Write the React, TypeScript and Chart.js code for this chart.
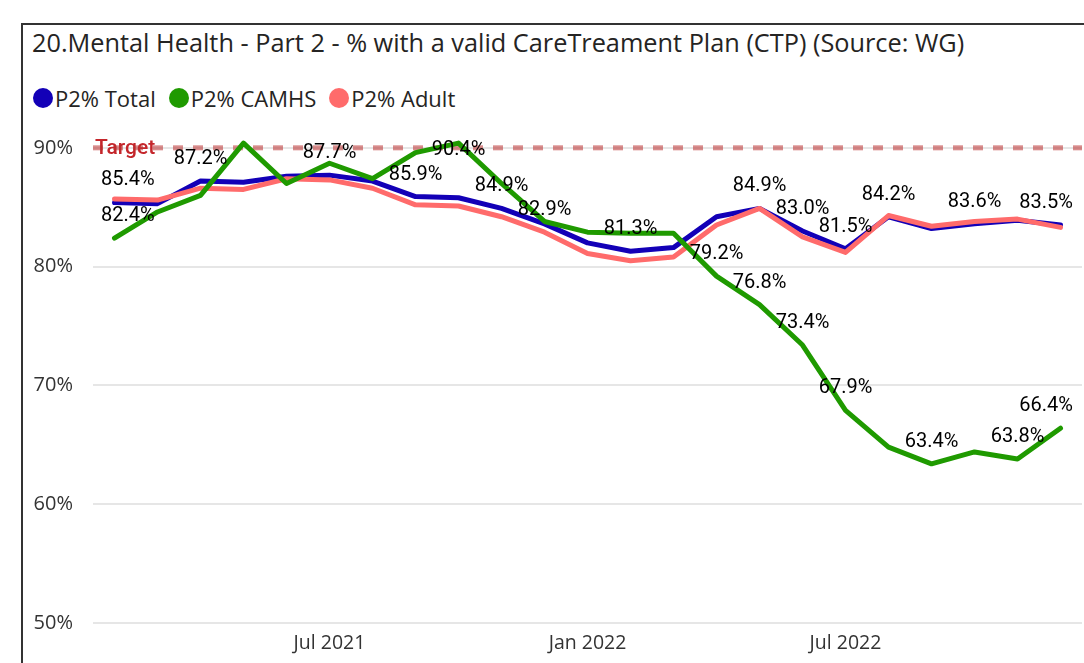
import React, { useEffect, useRef } from "react";
import { Chart, registerables } from "chart.js";

Chart.register(...registerables);

const titleText = "20.Mental Health - Part 2 - % with a valid CareTreament Plan (CTP) (Source: WG)";

const months = [
  "Feb 2021", "Mar 2021", "Apr 2021", "May 2021", "Jun 2021", "Jul 2021",
  "Aug 2021", "Sep 2021", "Oct 2021", "Nov 2021", "Dec 2021", "Jan 2022",
  "Feb 2022", "Mar 2022", "Apr 2022", "May 2022", "Jun 2022", "Jul 2022",
  "Aug 2022", "Sep 2022", "Oct 2022", "Nov 2022", "Dec 2022",
];
const xTickLabels = ["Jul 2021", "Jan 2022", "Jul 2022"];
const yTicks = [50, 60, 70, 80, 90];
const yMin = 50;
const yMax = 91.5;

const targetValue = 90;
const targetLabel = "Target";

const seriesNames = ["P2% Total", "P2% CAMHS", "P2% Adult"];
const seriesColors = ["#1300B7", "#1F9A00", "#FF6B6B"];

const totalValues = [
  85.4, 85.3, 87.2, 87.1, 87.6, 87.7, 87.2, 85.9, 85.8, 84.9, 83.6, 82.0,
  81.3, 81.6, 84.2, 84.9, 83.0, 81.5, 84.2, 83.2, 83.6, 83.9, 83.5,
];
const camhsValues = [
  82.4, 84.6, 86.0, 90.4, 87.0, 88.7, 87.4, 89.6, 90.4, 87.0, 83.8, 82.9,
  82.8, 82.8, 79.2, 76.8, 73.4, 67.9, 64.8, 63.4, 64.4, 63.8, 66.4,
];
const adultValues = [
  85.7, 85.6, 86.6, 86.5, 87.4, 87.3, 86.6, 85.2, 85.1, 84.2, 82.9, 81.1,
  80.5, 80.8, 83.5, 84.9, 82.5, 81.2, 84.3, 83.4, 83.8, 84.0, 83.3,
];

const totalLabelIdx = [0, 2, 5, 7, 9, 12, 15, 16, 17, 18, 20, 22];
const camhsLabelIdx = [0, 8, 14, 15, 16, 17, 19, 21, 22];
const adultLabelIdx = [10];

const labelIdxBySeries = [totalLabelIdx, camhsLabelIdx, adultLabelIdx];
const valuesBySeries = [totalValues, camhsValues, adultValues];
const drawOrder = [2, 0, 1];

const UI_FONT = "'Open Sans', 'Noto Sans', sans-serif";
const LABEL_FONT = "Roboto, 'DejaVu Sans', sans-serif";

const targetPlugin = {
  id: "targetLine",
  beforeDatasetsDraw(chart: any) {
    const { ctx, chartArea } = chart;
    const y = chart.scales.y.getPixelForValue(targetValue);
    ctx.save();
    ctx.font = `500 21px ${LABEL_FONT}`;
    ctx.fillStyle = "#C4262B";
    ctx.textAlign = "left";
    ctx.textBaseline = "middle";
    ctx.fillText(targetLabel, chartArea.left + 2, y + 1);
    ctx.beginPath();
    ctx.setLineDash([10, 10]);
    ctx.lineDashOffset = 0;
    ctx.lineWidth = 5;
    ctx.strokeStyle = "rgba(185, 45, 45, 0.55)";
    ctx.moveTo(chartArea.left, y);
    ctx.lineTo(chartArea.right, y);
    ctx.stroke();
    ctx.restore();
  },
};

const labelPlugin = {
  id: "pointLabels",
  afterDatasetsDraw(chart: any) {
    const { ctx, chartArea } = chart;
    ctx.save();
    ctx.font = `20px ${LABEL_FONT}`;
    ctx.fillStyle = "#000000";
    ctx.textAlign = "center";
    ctx.textBaseline = "middle";
    chart.data.datasets.forEach((ds: any, di: number) => {
      const meta = chart.getDatasetMeta(di);
      const idxs: number[] = labelIdxBySeries[di] || [];
      idxs.forEach((i) => {
        const pt = meta.data[i];
        if (!pt) return;
        const text = `${Number(ds.data[i]).toFixed(1)}%`;
        const w = ctx.measureText(text).width;
        const cx = Math.min(Math.max(pt.x, chartArea.left + 8 + w / 2), chartArea.right - 9 - w / 2);
        const cy = Math.max(pt.y - 22, chartArea.top + 20);
        ctx.fillText(text, cx, cy);
      });
    });
    ctx.restore();
  },
};

function ChartCanvas() {
  const ref = useRef<HTMLCanvasElement | null>(null);
  useEffect(() => {
    if (!ref.current) return;
    const chart = new Chart(ref.current, {
      type: "line",
      data: {
        labels: months,
        datasets: seriesNames.map((name, i) => ({
          label: name,
          data: valuesBySeries[i],
          borderColor: seriesColors[i],
          backgroundColor: seriesColors[i],
          borderWidth: 5,
          pointRadius: 0,
          pointHoverRadius: 0,
          tension: 0,
          fill: false,
          borderJoinStyle: "round" as const,
          borderCapStyle: "round" as const,
          order: drawOrder[i],
        })),
      },
      options: {
        responsive: false,
        animation: false,
        events: [],
        layout: { padding: { left: 0, top: 130, right: 2, bottom: 0 } },
        plugins: {
          legend: { display: false },
          title: { display: false },
          tooltip: { enabled: false },
        },
        scales: {
          x: {
            type: "category",
            offset: true,
            grid: { display: false, drawTicks: false },
            border: { display: false },
            afterFit: (s: any) => {
              s.height = 40;
            },
            ticks: {
              autoSkip: false,
              maxRotation: 0,
              padding: 9,
              color: "#333333",
              font: { family: UI_FONT, size: 19.5 },
              callback: function (this: any, _v: any, idx: number) {
                const lab = months[idx];
                return xTickLabels.includes(lab) ? lab : "";
              },
            },
          },
          y: {
            min: yMin,
            max: yMax,
            afterFit: (s: any) => {
              s.width = 93;
            },
            afterBuildTicks: (s: any) => {
              s.ticks = yTicks.map((v) => ({ value: v }));
            },
            grid: { color: "#E6E6E6", lineWidth: 2, drawTicks: false },
            border: { display: false },
            ticks: {
              padding: 20,
              color: "#333333",
              font: { family: UI_FONT, size: 20 },
              callback: (v: any) => `${v}%`,
            },
          },
        },
      },
      plugins: [targetPlugin, labelPlugin],
    });
    return () => chart.destroy();
  }, []);
  return (
    <canvas
      ref={ref}
      width={1084}
      height={663}
      style={{ position: "absolute", left: 0, top: 0, display: "block" }}
    />
  );
}

export default function App() {
  return (
    <div
      style={{
        position: "fixed",
        left: 0,
        top: 0,
        width: 1084,
        height: 663,
        overflow: "hidden",
        background: "#ffffff",
      }}
    >
      <div
        style={{
          position: "absolute",
          left: 21,
          top: 23,
          width: 1200,
          height: 800,
          borderTop: "2px solid #333333",
          borderLeft: "2px solid #333333",
        }}
      />
      <div
        style={{
          position: "absolute",
          left: 32,
          top: 25,
          fontFamily: UI_FONT,
          fontSize: 25.3,
          lineHeight: "34px",
          color: "#252423",
          whiteSpace: "nowrap",
        }}
      >
        {titleText}
      </div>
      <div
        style={{
          position: "absolute",
          left: 33,
          top: 83,
          height: 30,
          display: "flex",
          alignItems: "center",
          fontFamily: UI_FONT,
          fontSize: 22,
          color: "#252423",
          whiteSpace: "nowrap",
        }}
      >
        {seriesNames.map((n, i) => (
          <div key={n} style={{ display: "flex", alignItems: "center", marginRight: 13 }}>
            <span
              style={{
                display: "inline-block",
                width: 20,
                height: 20,
                borderRadius: 10,
                background: seriesColors[i],
                marginRight: 2,
              }}
            />
            <span>{n}</span>
          </div>
        ))}
      </div>
      <ChartCanvas />
    </div>
  );
}
